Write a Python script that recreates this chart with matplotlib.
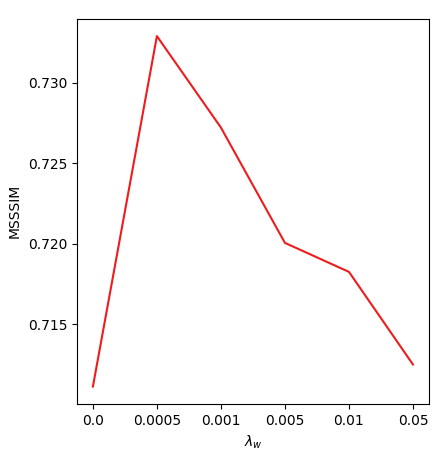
import matplotlib
matplotlib.use('Agg')
import matplotlib.pyplot as plt

# lambda_w settings and the MSSSIM measured for each
lambda_labels = ['0.0', '0.0005', '0.001', '0.005', '0.01', '0.05']
msssim = [0.71114, 0.73290, 0.72722, 0.72006, 0.71826, 0.71251]

fig = plt.figure(figsize=(4.32, 4.53), dpi=100)
ax = fig.add_axes([0.178, 0.108, 0.815, 0.851])

x = list(range(len(lambda_labels)))
ax.plot(x, msssim, color='#ee1c1c', linewidth=1.5)
ax.set_xticks(x)
ax.set_xticklabels(lambda_labels)
ax.set_yticks([0.715, 0.720, 0.725, 0.730])
ax.set_xlabel(r'$\lambda_w$')
ax.set_ylabel('MSSSIM')

fig.savefig('out.png', dpi=100)
